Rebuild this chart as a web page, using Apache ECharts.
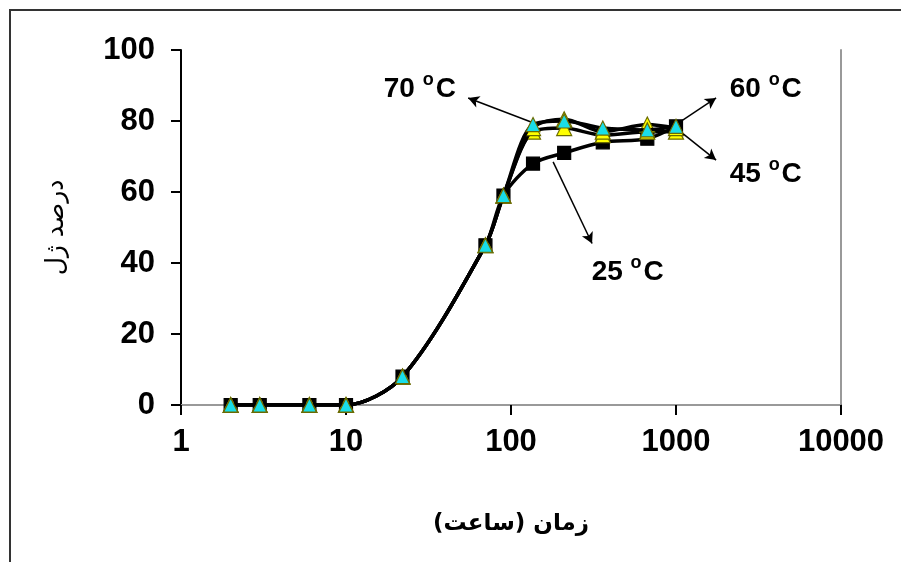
<!DOCTYPE html>
<html><head><meta charset="utf-8">
<script src="https://cdn.jsdelivr.net/npm/echarts@6/dist/echarts.min.js"></script>
<style>html,body{margin:0;padding:0;background:#fff}#c{width:901px;height:562px}</style>
</head><body><div id="c"></div>
<script>
var hours = [2, 3, 6, 10, 22, 70, 90, 136, 210, 360, 670, 1000];
var gel25 = [0, 0, 0, 0, 8, 45, 59, 68, 71, 74, 75, 78.5];
var gel45 = [0, 0, 0, 0, 8, 45, 59, 77, 78, 76, 77, 77];
var gel60 = [0, 0, 0, 0, 8, 45, 59, 78, 80.5, 77, 79, 78];
var gel70 = [0, 0, 0, 0, 8, 45, 59, 79, 80, 78, 77.5, 78.5];
var xTicks = [1, 10, 100, 1000, 10000];
var yTicks = [0, 20, 40, 60, 80, 100];
var seriesNames = ['25 °C', '45 °C', '60 °C', '70 °C'];
var xTitle = 'زمان (ساعت)';
var yTitle = 'درصد ژل';
// annotations: [label, labelX, labelY, arrowFromX, arrowFromY, arrowToX, arrowToY]
var notes = [
  ['70', 28, 89.5, 136, 79.5, 55, 86.5],
  ['60', 3500, 89.5, 1000, 79, 1750, 86.5],
  ['45', 3500, 65.5, 1000, 78, 1750, 69],
  ['25', 510, 38, 180, 68.5, 310, 45.5]
];

function pairs(ys){ return hours.map(function(h,i){ return [h, ys[i]]; }); }

var triBorder = '#6b6b00';
var mk = function(name, ys, symbol, size, color, border, z){
  return {
    name: name, type: 'line', smooth: 0.3, data: pairs(ys),
    symbol: symbol, symbolSize: size, showAllSymbol: true,
    lineStyle: {color: '#000', width: 3.5},
    itemStyle: {color: color, borderColor: border, borderWidth: 1.2, opacity: 1},
    z: z, animation: false
  };
};

var arrowLines = notes.map(function(n){
  return [{coord: [n[3], n[4]], symbol: 'none'}, {coord: [n[5], n[6]], symbol: 'arrow', symbolSize: [9, 11]}];
});
var labelPoints = notes.map(function(n){
  return {coord: [n[1], n[2]], value: n[0]};
});

var series = [
  mk(seriesNames[0], gel25, 'rect', 13, '#000', '#000', 2),
  mk(seriesNames[1], gel45, 'triangle', 15, '#ffff00', triBorder, 3),
  mk(seriesNames[2], gel60, 'triangle', 15, '#ffff00', triBorder, 4),
  mk(seriesNames[3], gel70, 'triangle', 14, '#19dde8', triBorder, 5)
];
series[3].markLine = {
  silent: true, symbol: ['none', 'arrow'], symbolSize: 11,
  lineStyle: {color: '#000', width: 1.5, type: 'solid'},
  itemStyle: {color: '#000'},
  label: {show: false}, data: arrowLines, animation: false
};
series[3].markPoint = {
  silent: true, symbol: 'rect', symbolSize: 1, itemStyle: {color: 'rgba(0,0,0,0)'},
  label: {
    show: true, position: 'inside',
    formatter: function(p){ return '{n|' + p.value + ' }{s|o}{n|C}'; },
    rich: {
      n: {fontFamily: 'Liberation Sans', fontWeight: 'bold', fontSize: 28, color: '#000', lineHeight: 32, verticalAlign: 'bottom'},
      s: {fontFamily: 'Liberation Sans', fontWeight: 'bold', fontSize: 18, color: '#000', lineHeight: 10, verticalAlign: 'top', padding: [0, 2, 0, 0]}
    }
  },
  data: labelPoints, animation: false
};

var tickFont = {fontFamily: 'Liberation Sans', fontWeight: 'bold', fontSize: 31, color: '#000'};

var chart = echarts.init(document.getElementById('c'), null, {renderer: 'canvas'});
chart.setOption({
  animation: false,
  backgroundColor: '#fff',
  grid: {left: 181, right: 60, top: 50, bottom: 157, containLabel: false},
  graphic: [{type: 'rect', shape: {x: 10, y: 10, width: 1200, height: 1200}, style: {fill: 'none', stroke: '#333', lineWidth: 2}, silent: true, z: -10}],
  xAxis: [{
    type: 'log', logBase: 10, min: xTicks[0], max: xTicks[xTicks.length - 1],
    name: xTitle, nameLocation: 'middle', nameGap: 108,
    nameTextStyle: {fontFamily: 'DejaVu Sans', fontSize: 23, color: '#000', fontWeight: 'bold'},
    axisLine: {show: true, lineStyle: {color: '#000', width: 2}},
    axisTick: {show: true, length: 10, lineStyle: {color: '#000', width: 2}},
    axisLabel: Object.assign({margin: 22, formatter: function(v){ return String(v); }}, tickFont),
    minorTick: {show: false}, splitLine: {show: false}
  }, {
    type: 'log', logBase: 10, min: xTicks[0], max: xTicks[xTicks.length - 1], position: 'top',
    axisLine: {show: true, lineStyle: {color: '#999', width: 2}},
    axisTick: {show: false}, axisLabel: {show: false}, splitLine: {show: false}
  }],
  yAxis: [{
    type: 'value', min: yTicks[0], max: yTicks[yTicks.length - 1], interval: 20,
    name: yTitle, nameLocation: 'middle', nameGap: 112, nameRotate: 90,
    nameTextStyle: {fontFamily: 'DejaVu Sans', fontSize: 25, color: '#000'},
    axisLine: {show: true, lineStyle: {color: '#000', width: 2}},
    axisTick: {show: true, length: 10, lineStyle: {color: '#000', width: 2}},
    axisLabel: Object.assign({margin: 26}, tickFont),
    splitLine: {show: false}
  }, {
    type: 'value', min: yTicks[0], max: yTicks[yTicks.length - 1], position: 'right',
    axisLine: {show: true, lineStyle: {color: '#999', width: 2}},
    axisTick: {show: false}, axisLabel: {show: false}, splitLine: {show: false}
  }],
  series: series
});
</script></body></html>
